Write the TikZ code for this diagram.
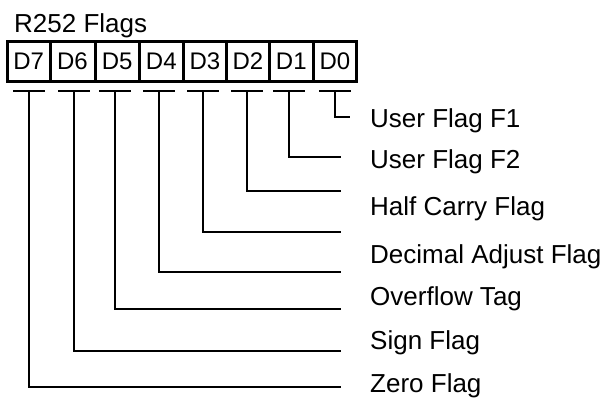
\documentclass[tikz,border=0pt]{standalone}
\usepackage{fontspec}
\setmainfont{Liberation Sans}
\begin{document}
\begin{tikzpicture}[x=1pt,y=-1pt,
  every node/.style={font=\fontsize{26}{30}\selectfont, inner sep=0pt},
  cell/.style={draw, line width=3pt, minimum height=40pt, anchor=center},
  bit/.style={anchor=base, font=\fontsize{24}{28}\selectfont},
  lbl/.style={anchor=base west},
  tbar/.style={line width=2.6pt},
  conn/.style={line width=2.6pt}]
\useasboundingbox (0,0) rectangle (607,400);
% title
\node[anchor=base west] (title) at (14,32) {R252 Flags};
% register cells
\foreach \n/\l/\r in {7/7.3/50, 6/50/95, 5/95/139.3, 4/139.3/183.3, 3/183.3/226.7, 2/226.7/269.3, 1/269.3/313.3, 0/313.3/356.7}{
  \node[cell, minimum width={\r-\l}] (c\n) at ({(\l+\r)/2},61) {};
  \node[bit] (t\n) at ({(\l+\r)/2},69.5) {D\n};
}
% tap bars and connectors
\foreach \n/\x/\y in {7/29/387, 6/74/351, 5/115/309, 4/159/272, 3/203/232, 2/247/191, 1/289/157}{
  \coordinate (b\n) at (\x,91);
  \coordinate (e\n) at (341,\y);
  \draw[tbar] ([xshift=-16pt]b\n) -- ([xshift=16pt]b\n);
  \draw[conn] (b\n) |- (e\n);
}
\coordinate (b0) at (335,91);
\coordinate (e0) at (350,117);
\draw[tbar] ([xshift=-16pt]b0) -- ([xshift=16pt]b0);
\draw[conn] (b0) |- (e0);
% labels
\node[lbl] (l1) at (370,127) {User Flag F1};
\node[lbl] (l2) at (370,168) {User Flag F2};
\node[lbl] (l3) at (370,215) {Half Carry Flag};
\node[lbl] (l4) at (370,263) {Decimal Adjust Flag};
\node[lbl] (l5) at (370,305) {Overflow Tag};
\node[lbl] (l6) at (370,349) {Sign Flag};
\node[lbl] (l7) at (370,392) {Zero Flag};
\end{tikzpicture}
\end{document}
